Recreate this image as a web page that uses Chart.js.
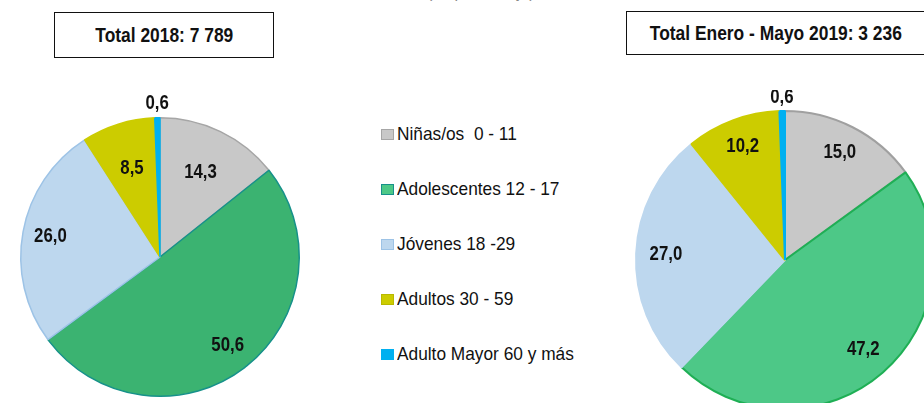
<!DOCTYPE html>
<html>
<head>
<meta charset="utf-8">
<script src="https://cdn.jsdelivr.net/npm/chart.js@4"></script>
<style>
    html, body { margin: 0; padding: 0; background: #fff; }
    body { width: 924px; height: 403px; position: relative; overflow: hidden;
           font-family: "Liberation Sans Narrow", "Arial Narrow", "Liberation Sans", Arial, sans-serif; }
    .box { position: absolute; border: 1.5px solid #111; box-sizing: border-box; background: #fff;
           font-weight: bold; font-size: 20px; color: #111; display: flex; align-items: center; justify-content: center; }
    .narrow { display: inline-block; transform: scaleX(0.87); white-space: pre; }
    #cut { position: absolute; left: 427px; top: -16px; font-size: 16px; color: #888; font-family: "Liberation Sans", Arial, sans-serif; }
    canvas { position: absolute; }
    #legend { position: absolute; left: 381px; top: 123px; }
    .item { height: 55px; display: flex; align-items: flex-start; font-size: 19px; color: #111; white-space: pre; }
    .item .narrow { transform-origin: left center; transform: scaleX(0.91); }
    .sw { width: 13px; height: 11px; box-sizing: border-box; border: 1.5px solid; margin: 6px 3px 0 0; flex: none; }
</style>
</head>
<body>
<div id="cut">(en porcentaje)</div>
<div class="box" style="left:54px;top:12px;width:220px;height:46px;"><span class="narrow" id="title1"></span></div>
<div class="box" style="left:626px;top:11px;width:300px;height:44px;"><span class="narrow" id="title2"></span></div>
<canvas id="pie1" width="320" height="340" style="left:0px;top:77px;"></canvas>
<canvas id="pie2" width="340" height="340" style="left:615px;top:90px;"></canvas>
<div id="legend"></div>

<script>
/* ---------- 資料 ---------- */
const categories = ["Niñas/os  0 - 11", "Adolescentes 12 - 17", "Jóvenes 18 -29", "Adultos 30 - 59", "Adulto Mayor 60 y más"];
const values2018 = [14.3, 50.6, 26.0, 8.5, 0.6];
const values2019 = [15.0, 47.2, 27.0, 10.2, 0.6];
const title2018 = "Total 2018: 7 789";
const title2019 = "Total Enero - Mayo 2019: 3 236";

/* ---------- 顏色 ---------- */
const fill2018 = ["#C8C8C8", "#3BB371", "#BDD7EE", "#CCCC00", "#00B0F0"];
const line2018 = ["#A6A6A6", "#16918A", "#9DC3E6", "#CCCC00", "#00B0F0"];
const fill2019 = ["#C8C8C8", "#4DC887", "#BDD7EE", "#CCCC00", "#00B0F0"];
const line2019 = ["#A0A0A0", "#1FAF55", "#BDD7EE", "#CCCC00", "#00B0F0"];
const legendFill = ["#C8C8C8", "#4DC887", "#BDD7EE", "#CCCC00", "#00B0F0"];
const legendLine = ["#A6A6A6", "#16918A", "#9DC3E6", "#B8B800", "#00B0F0"];

document.getElementById("title1").textContent = title2018;
document.getElementById("title2").textContent = title2019;

/* ---------- 圖例 ---------- */
document.getElementById("legend").innerHTML = categories
    .map((c, i) => `<div class="item"><span class="sw" style="background:${legendFill[i]};border-color:${legendLine[i]}"></span><span class="narrow">${c}</span></div>`)
    .join("");

/* ---------- 數值標籤 ---------- */
const sliceLabels = {
    id: "sliceLabels",
    afterDatasetsDraw(chart, args, opts) {
        const ctx = chart.ctx;
        const meta = chart.getDatasetMeta(0);
        const data = chart.data.datasets[0].data;
        const sx = 0.84;
        ctx.save();
        ctx.font = 'bold 20px "Liberation Sans Narrow", "Arial Narrow", "Liberation Sans", Arial, sans-serif';
        ctx.fillStyle = "#111";
        ctx.textAlign = "center";
        ctx.textBaseline = "middle";
        meta.data.forEach((arc, i) => {
            const mid = (arc.startAngle + arc.endAngle) / 2;
            let r;
            if (data[i] < 2) r = arc.outerRadius + 14;
            else if (data[i] > 20) r = arc.outerRadius * 0.8;
            else r = arc.outerRadius * opts.smallRatio;
            const x = arc.x + Math.cos(mid) * r;
            const y = arc.y + Math.sin(mid) * r;
            ctx.save();
            ctx.translate(x, y);
            ctx.scale(sx, 1);
            ctx.fillText(data[i].toFixed(1).replace(".", ","), 0, 0);
            ctx.restore();
        });
        ctx.restore();
    }
};

function makePie(id, values, fills, lines, bw, smallRatio, padding) {
    return new Chart(document.getElementById(id), {
        type: "pie",
        data: {
            labels: categories,
            datasets: [{ data: values, backgroundColor: fills, borderColor: lines, borderWidth: bw }]
        },
        options: {
            responsive: false,
            animation: false,
            events: [],
            layout: { padding },
            plugins: {
                legend: { display: false },
                tooltip: { enabled: false },
                sliceLabels: { smallRatio }
            }
        },
        plugins: [sliceLabels]
    });
}

makePie("pie1", values2018, fill2018, line2018, 1.5, 0.67, { top: 40, bottom: 20, left: 20, right: 20 });
makePie("pie2", values2019, fill2019, line2019, 2, 0.81, 20);
</script>
</body>
</html>
